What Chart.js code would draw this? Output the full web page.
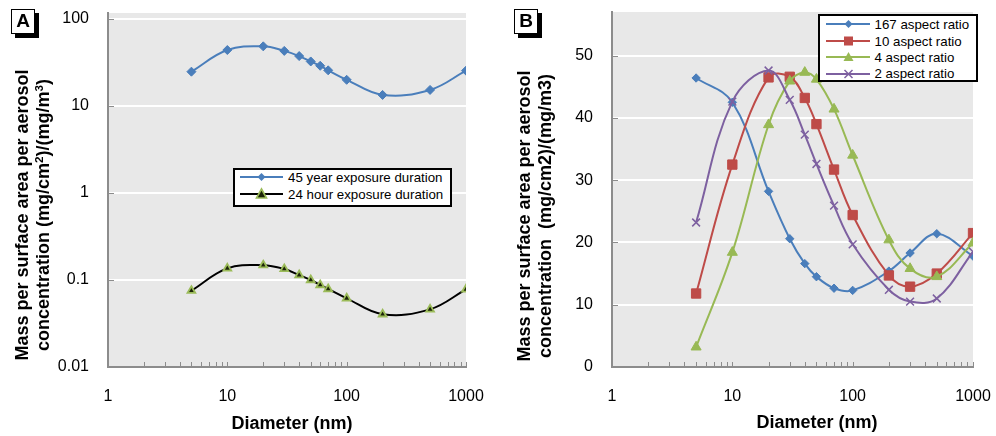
<!DOCTYPE html>
<html><head><meta charset="utf-8">
<script src="https://cdn.jsdelivr.net/npm/chart.js@4.4.1/dist/chart.umd.min.js"></script>
<style>
html,body{margin:0;padding:0;background:#fff;}
#wrap{position:relative;width:996px;height:436px;overflow:hidden;font-family:'Liberation Sans',Arial,sans-serif;color:#000;background:#fff}
canvas{position:absolute;top:0}
.panel{position:absolute;width:24px;height:25px;box-sizing:border-box;border:1.5px solid #000;background:#fff;box-shadow:4px 4px 0 #000;font-weight:bold;font-size:19px;line-height:22px;text-align:center}
.ytitle{position:absolute;white-space:nowrap;text-align:center;font-weight:bold;font-size:18px;line-height:21px;transform:translate(-50%,-50%) rotate(-90deg)}
.xtitle{position:absolute;white-space:nowrap;font-weight:bold;font-size:18px;line-height:21px;transform:translate(-50%,-50%)}
.legend{position:absolute;box-sizing:border-box;border:2px solid #000;background:#fff;font-size:13.3px}
.legend .row{position:absolute;left:0;height:16px;display:flex;align-items:center;white-space:nowrap}
.legend svg{display:block;flex:none}
sup{font-size:0.65em;line-height:0;vertical-align:0.55em}
</style></head>
<body>
<div id="wrap">
  <canvas id="cA" width="498" height="436" style="left:0;width:498px;height:436px"></canvas>
  <canvas id="cB" width="498" height="436" style="left:498px;width:498px;height:436px"></canvas>

  <div class="panel" style="left:11px;top:9px">A</div>
  <div class="panel" style="left:514px;top:9px">B</div>

  <div class="ytitle" style="left:32.5px;top:215px">Mass per surface area per aerosol<br>concentration (mg/cm<sup>2</sup>)/(mg/m<sup>3</sup>)</div>
  <div class="ytitle" style="left:535px;top:216px">Mass per surface area per aerosol<br>concentration&nbsp; (mg/cm2)/(mg/m3)</div>
  <div class="xtitle" style="left:292px;top:423px">Diameter (nm)</div>
  <div class="xtitle" style="left:817px;top:422px">Diameter (nm)</div>

  <div class="legend" id="legA" style="left:233px;top:168px;width:219px;height:39px"></div>
  <div class="legend" id="legB" style="left:818px;top:14px;width:160px;height:68px"></div>
</div>
<script>
// ---------- data ----------
const diamA = [5, 10, 20, 30, 40, 50, 60, 70, 100, 200, 500, 1000];
const yr45 = [24.8, 44, 48.5, 43, 37.5, 32.5, 29, 25.7, 20, 13.4, 15.3, 25.5];
const hr24 = [0.0753, 0.136, 0.148, 0.134, 0.114, 0.1, 0.0876, 0.0788, 0.0616, 0.0404, 0.046, 0.078];

const diamB = [5, 10, 20, 30, 40, 50, 70, 100, 200, 300, 500, 1000];
const ar167 = [46.4, 42.5, 28.2, 20.6, 16.6, 14.5, 12.65, 12.3, 15.4, 18.3, 21.4, 17.8];
const ar10 = [11.8, 32.5, 46.5, 46.6, 43.2, 39.0, 31.7, 24.4, 14.7, 12.9, 15.0, 21.5];
const ar4 = [3.2, 18.4, 38.9, 45.9, 47.3, 46.2, 41.4, 34.0, 20.4, 15.8, 14.5, 19.9];
const ar2 = [23.2, 42.6, 47.6, 42.9, 37.3, 32.6, 25.9, 19.7, 12.4, 10.5, 11.0, 18.5];

const xTickLabels = [1, 10, 100, 1000];
const yTicksA = [0.01, 0.1, 1, 10, 100];
const yLabelsA = ['0.01', '0.1', '1', '10', '100'];
const yTicksB = [0, 10, 20, 30, 40, 50];

const legendA = ['45 year exposure duration', '24 hour exposure duration'];
const legendB = ['167 aspect ratio', '10 aspect ratio', '4 aspect ratio', '2 aspect ratio'];

// ---------- styles ----------
const C = {blue: '#4a7ebb', red: '#be4b48', green: '#98b954', purple: '#7d60a0', black: '#000'};
const AXIS = '#8c8c8c', PLOT = '#e8e8e8';
Chart.defaults.font.family = "'Liberation Sans', Arial, sans-serif";
Chart.defaults.color = '#000';

// axis minor tick positions (1..9 per decade)
const xTickValues = [];
for (let d = 1; d < 1000; d *= 10) for (let k = 1; k < 10; k++) xTickValues.push(k * d);
xTickValues.push(1000);

const pts = (xs, ys) => xs.map((x, i) => ({x, y: ys[i]}));
const noPad = s => { s.paddingTop = 0; s.paddingBottom = 0; s.paddingLeft = 0; s.paddingRight = 0; };

const bgPlugin = {
  id: 'plotBg',
  beforeDraw(chart) {
    const {ctx, chartArea: a} = chart;
    ctx.save();
    ctx.fillStyle = PLOT;
    ctx.fillRect(a.left, a.top, a.right - a.left, a.bottom - a.top);
    ctx.restore();
  }
};
const innerTicks = {
  id: 'innerTicks',
  beforeDatasetsDraw(chart) {
    const {ctx, chartArea: a, scales: {x, y}} = chart;
    ctx.save();
    ctx.strokeStyle = AXIS; ctx.lineWidth = 1;
    ctx.beginPath();
    x.ticks.forEach(t => {
      const px = Math.round(x.getPixelForValue(t.value)) + 0.5;
      ctx.moveTo(px, a.bottom); ctx.lineTo(px, a.bottom - 5);
    });
    y.ticks.forEach(t => {
      const py = Math.round(y.getPixelForValue(t.value)) + 0.5;
      ctx.moveTo(a.left, py); ctx.lineTo(a.left + 6, py);
    });
    ctx.stroke();
    ctx.restore();
  }
};

function xScale() {
  return {
    type: 'logarithmic', position: 'bottom', min: 1, max: 1000,
    afterBuildTicks: s => { s.ticks = xTickValues.map(v => ({value: v})); },
    afterFit: s => { s.height = 69; noPad(s); },
    grid: {display: false, drawTicks: false},
    border: {display: true, color: AXIS, width: 2},
    ticks: {
      autoSkip: false, maxRotation: 0, minRotation: 0, padding: 20,
      font: {size: 16}, color: '#000',
      callback: v => xTickLabels.includes(v) ? String(v) : ''
    }
  };
}

// ---------- chart A ----------
new Chart(document.getElementById('cA'), {
  type: 'line',
  data: {
    datasets: [
      {label: legendA[0], data: pts(diamA, yr45), borderColor: C.blue, backgroundColor: C.blue,
       borderWidth: 2, tension: 0.38, pointStyle: 'rectRot', pointRadius: 4.5,
       pointBackgroundColor: C.blue, pointBorderColor: C.blue, pointBorderWidth: 1},
      {label: legendA[1], data: pts(diamA, hr24), borderColor: C.black, backgroundColor: C.black,
       borderWidth: 2, tension: 0.38, pointStyle: 'triangle', pointRadius: 4.5,
       pointBackgroundColor: '#1c2408', pointBorderColor: '#9bbb59', pointBorderWidth: 1.8}
    ]
  },
  options: {
    responsive: false, animation: false, devicePixelRatio: 1, events: [],
    layout: {padding: {left: 0, right: 32, top: 13, bottom: 0}},
    plugins: {legend: {display: false}, tooltip: {enabled: false}},
    scales: {
      x: xScale(),
      y: {
        type: 'logarithmic', min: 0.01, max: 117.2,
        afterBuildTicks: s => { s.ticks = yTicksA.map(v => ({value: v})); },
        afterFit: s => { s.width = 108; noPad(s); },
        grid: {color: '#fff', lineWidth: 2, drawTicks: false},
        border: {display: true, color: AXIS, width: 2},
        ticks: {padding: 19, font: {size: 16}, color: '#000',
                callback: v => { const i = yTicksA.indexOf(v); return i >= 0 ? yLabelsA[i] : ''; }}
      }
    }
  },
  plugins: [bgPlugin, innerTicks]
});

// ---------- chart B ----------
const bSeries = [ar167, ar10, ar4, ar2];
const bColors = [C.blue, C.red, C.green, C.purple];
const bStyles = ['rectRot', 'rect', 'triangle', 'crossRot'];
const bRadius = [4.2, 6.6, 5.8, 5.5];
new Chart(document.getElementById('cB'), {
  type: 'line',
  data: {
    datasets: bSeries.map((s, i) => ({
      label: legendB[i], data: pts(diamB, s), order: 4 - i,
      borderColor: bColors[i], backgroundColor: bColors[i], borderWidth: 2, tension: 0.38,
      pointStyle: bStyles[i], pointRadius: bRadius[i],
      pointBackgroundColor: bColors[i], pointBorderColor: bColors[i],
      pointBorderWidth: bStyles[i] === 'crossRot' ? 1.5 : 1
    }))
  },
  options: {
    responsive: false, animation: false, devicePixelRatio: 1, events: [],
    layout: {padding: {left: 0, right: 23, top: 12, bottom: 0}},
    plugins: {legend: {display: false}, tooltip: {enabled: false}},
    scales: {
      x: xScale(),
      y: {
        type: 'linear', min: 0, max: 57,
        afterBuildTicks: s => { s.ticks = yTicksB.map(v => ({value: v})); },
        afterFit: s => { s.width = 114; noPad(s); },
        grid: {color: '#fff', lineWidth: 2, drawTicks: false},
        border: {display: true, color: AXIS, width: 2},
        ticks: {padding: 19, font: {size: 16}, color: '#000', callback: v => String(v)}
      }
    }
  },
  plugins: [bgPlugin, innerTicks]
});

// ---------- HTML legends ----------
function marker(style, color, cx, cy, extra) {
  switch (style) {
    case 'diamond': return `<polygon points="${cx},${cy-4} ${cx+4},${cy} ${cx},${cy+4} ${cx-4},${cy}" fill="${color}"/>`;
    case 'square': return `<rect x="${cx-4.5}" y="${cy-4.5}" width="9" height="9" fill="${color}"/>`;
    case 'triangle': return `<polygon points="${cx},${cy-5} ${cx+5},${cy+4} ${cx-5},${cy+4}" fill="${extra || color}" stroke="${color}" stroke-width="${extra ? 1.6 : 0}"/>`;
    case 'x': return `<path d="M${cx-4},${cy-4}L${cx+4},${cy+4}M${cx+4},${cy-4}L${cx-4},${cy+4}" stroke="${color}" stroke-width="1.5"/>`;
  }
  return '';
}
function row(top, x1, x2, mx, lineColor, style, mColor, extra, text, gap) {
  const w = x2 + gap;
  return `<div class="row" style="top:${top}px"><svg width="${w}" height="16" viewBox="0 0 ${w} 16">` +
    `<line x1="${x1}" y1="8" x2="${x2}" y2="8" stroke="${lineColor}" stroke-width="2"/>` +
    marker(style, mColor, mx, 8, extra) + `</svg><span>${text}</span></div>`;
}
document.getElementById('legA').innerHTML =
  row(-1, 5, 48, 26.5, C.blue, 'diamond', C.blue, null, legendA[0], 5) +
  row(16, 5, 48, 26.5, C.black, 'triangle', '#9bbb59', '#1c2408', legendA[1], 5);
const bMk = ['diamond', 'square', 'triangle', 'x'];
const bTops = [0, 17, 33, 49.5];
document.getElementById('legB').innerHTML = bSeries.map((s, i) =>
  row(bTops[i], 6, 50, 28.5, bColors[i], bMk[i], bColors[i], null, legendB[i], 4.5)).join('');
</script>
</body></html>
